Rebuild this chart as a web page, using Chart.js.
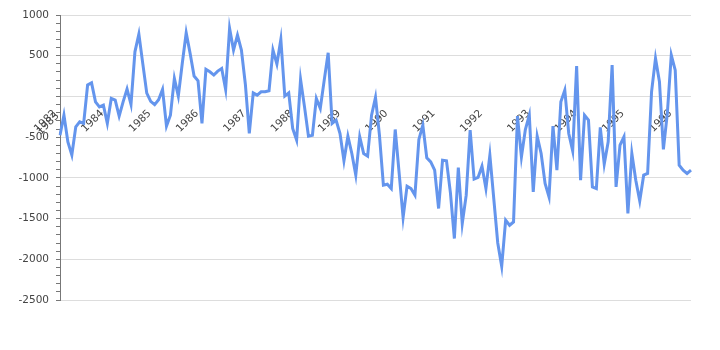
<!DOCTYPE html>
<html>
<head>
<meta charset="utf-8">
<script src="https://cdn.jsdelivr.net/npm/chart.js@4/dist/chart.umd.min.js"></script>
<style>
  body { margin: 0; background: #fff; }
  #wrap { width: 720px; height: 350px; }
</style>
</head>
<body>
<div id="wrap"><canvas id="chart" width="720" height="350"></canvas></div>
<script>
// 月次データ 1983-01 〜 1996-05
const YEARS = ['1983', '1984', '1985', '1986', '1987', '1988', '1989', '1990', '1991', '1992', '1993', '1994', '1995', '1996']
const VALUES = [
    -476, -230, -560, -720, -373, -312, -330, 140, 167, -66, -128, -107,
    -330, -25, -45, -242, -66, 90, -98, 548, 766, 400, 40, -60,
    -100, -40, 86, -365, -230, 221, 4, 405, 782, 528, 250, 192,
    -332, 332, 302, 262, 311, 344, 86, 836, 569, 753, 569, 150,
    -455, 44, 16, 57, 57, 69, 569, 397, 700, 4, 44, -393,
    -537, 209, -128, -488, -476, -25, -148, 200, 536, -332, -291, -455,
    -791, -488, -701, -967, -496, -701, -734, -230, -12, -476, -1090, -1078,
    -1131, -406, -946, -1487, -1102, -1131, -1213, -528, -353, -753, -804, -906,
    -1376, -783, -791, -1184, -1745, -873, -1561, -1213, -414, -1016, -995, -857,
    -1131, -721, -1260, -1800, -2086, -1520, -1582, -1541, -242, -742, -406, -230,
    -1172, -488, -701, -1069, -1234, -365, -906, -66, 77, -455, -668, 372,
    -1029, -230, -291, -1111, -1131, -381, -832, -558, 385, -1111, -598, -496,
    -1438, -701, -1029, -1283, -967, -946, 57, 467, 180, -651, -209, 508,
    323, -844, -906, -946, -906
]
const Y_TICKS = [-2500, -2000, -1500, -1000, -500, 500, 1000]

const LABELS = VALUES.map((v, i) => YEARS[Math.floor(i / 12)] + '-' + String(i % 12 + 1).padStart(2, '0'))

const OPTION = {
    type: 'line',
    data: {
        labels: LABELS,
        datasets: [{
            data: VALUES,
            borderColor: '#6495ed',
            borderWidth: 3,
            pointRadius: 0,
            tension: 0,
            fill: false
        }]
    },
    options: {
        responsive: false,
        animation: false,
        layout: { padding: { top: 15, right: 29, bottom: 50, left: 0 } },
        plugins: { legend: { display: false }, tooltip: { enabled: false } },
        scales: {
            x: {
                position: { y: 0 },
                grid: { display: false },
                border: { display: false },
                ticks: {
                    autoSkip: false,
                    maxRotation: 45,
                    minRotation: 45,
                    padding: 6,
                    labelOffset: -5,
                    color: '#444',
                    font: { family: 'DejaVu Sans', size: 10.5, lineHeight: 0.35 },
                    callback: (v, i) => {
                        if (i === 0) return ['1982', '1983']
                        return i % 12 === 0 ? YEARS[i / 12] : ''
                    }
                }
            },
            y: {
                min: -2500,
                max: 1000,
                afterFit: s => { s.width = 60 },
                border: { display: true, color: '#777', width: 1 },
                grid: {
                    color: c => Math.round(c.tick.value) % 500 === 0 ? '#dddddd' : 'rgba(0,0,0,0)',
                    tickColor: '#777',
                    tickLength: 4
                },
                ticks: {
                    stepSize: 100,
                    maxTicksLimit: 50,
                    autoSkip: false,
                    padding: 7,
                    color: '#444',
                    font: { family: 'DejaVu Sans', size: 10.5 },
                    callback: v => Y_TICKS.includes(Math.round(v)) ? Math.round(v) : ''
                }
            }
        }
    }
}

window.onload = _ => {
    const ctx = document.getElementById('chart').getContext('2d')
    window.chart = new Chart(ctx, OPTION)
}
</script>
</body>
</html>
